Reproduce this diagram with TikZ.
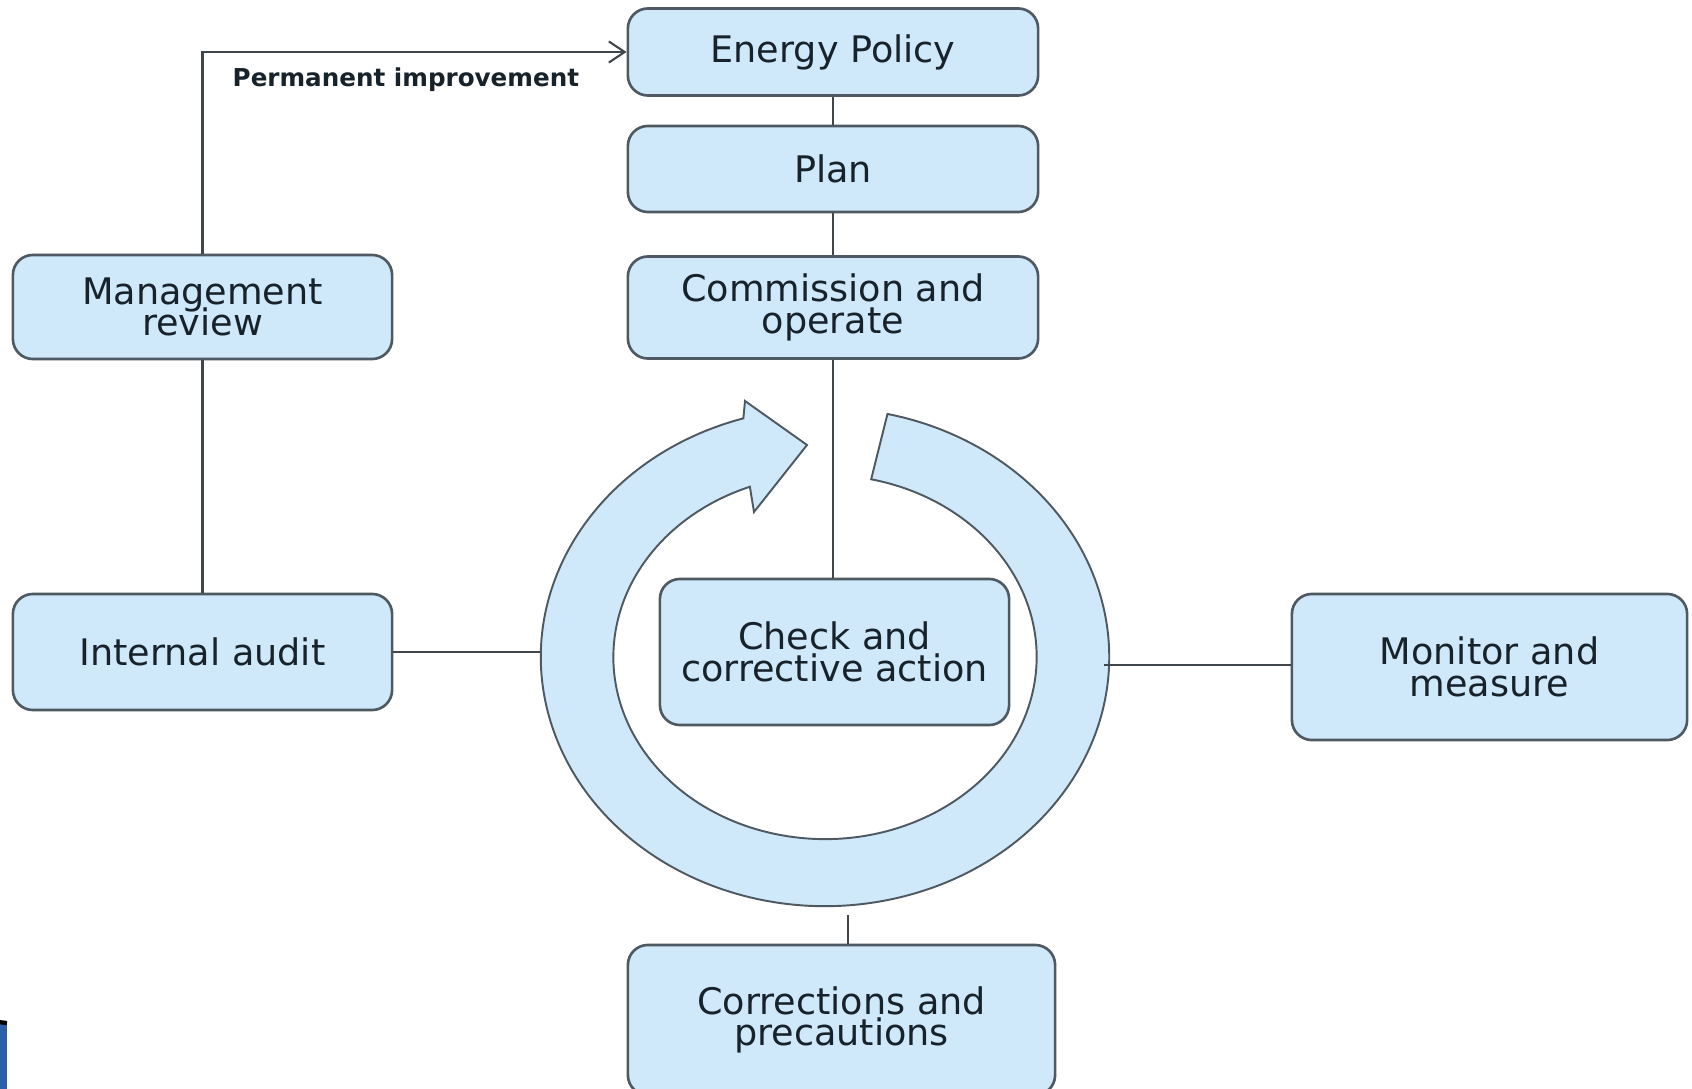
\documentclass[tikz,border=0pt]{standalone}
\usepackage{fontspec}
\setmainfont{DejaVu Sans}
\usetikzlibrary{arrows.meta}

\definecolor{boxfill}{HTML}{CFE9FB}
\definecolor{boxline}{HTML}{4E5961}
\definecolor{ink}{HTML}{18222B}
\definecolor{wirecol}{HTML}{3F474D}
\definecolor{tabblue}{HTML}{2B5FA8}

% keep two-line labels at a fixed, tight line pitch
\newcommand\tightlabel{\fontsize{10.4}{9}\selectfont\lineskiplimit=-20pt\relax\lineskip=0pt\relax}

\begin{document}
\begin{tikzpicture}[x=0.01cm,y=0.01cm,
  stage/.style={draw=boxline, line width=0.75pt, fill=boxfill,
    rounded corners=0.2cm, text=ink, align=center, inner sep=0pt,
    font=\tightlabel},
  wire/.style={draw=wirecol, line width=0.6pt},
  ringstyle/.style={draw=boxline, line width=0.55pt, fill=boxfill},
]
\useasboundingbox (0,0) rectangle (1692,-1089);
\clip (0,0) rectangle (1692,-1089);
\fill[white] (0,0) rectangle (1692,-1089);

% circular improvement arrow
\coordinate (rc) at (825,-657);
\path[ringstyle]
  (rc) ++(106.7:2.84cm and 2.49cm)
  arc[start angle=106.7, end angle=437.3, x radius=2.84cm, y radius=2.49cm]
  -- ([shift={(77.4:2.115cm and 1.82cm)}]rc)
  arc[start angle=77.4, end angle=-249.2, x radius=2.115cm, y radius=1.82cm]
  -- (754,-512) -- (807,-445) -- (745,-401) -- cycle;

% process stages
\node[stage, minimum width=4.10cm, minimum height=0.87cm] (policy) at (833,-52) {Energy Policy};
\node[stage, minimum width=4.10cm, minimum height=0.86cm] (plan) at (833,-169) {Plan};
\node[stage, minimum width=4.10cm, minimum height=1.02cm] (operate) at (833,-307.5) {Commission and\\operate};
\node[stage, minimum width=3.79cm, minimum height=1.04cm] (review) at (202.5,-307) {Management\\review};
\node[stage, minimum width=3.79cm, minimum height=1.16cm] (audit) at (202.5,-652) {Internal audit};
\node[stage, minimum width=3.95cm, minimum height=1.46cm] (monitor) at (1489.5,-667) {Monitor and\\measure};
\node[stage, minimum width=4.27cm, minimum height=1.50cm] (correct) at (841.5,-1020) {Corrections and\\precautions};
\node[stage, minimum width=3.49cm, minimum height=1.46cm] (check) at (834.5,-652) {Check and\\corrective action};

% connectors
\draw[wire] (policy) -- (plan);
\draw[wire] (plan) -- (operate);
\draw[wire] (operate.south) -- (operate.south |- check.north);
\draw[wire] (review) -- (audit);
\draw[wire, -{Straight Barb[length=4.5pt, width=6pt]}] (review.north) |- (policy.west);
\node[font=\bfseries\fontsize{7}{8}\selectfont, text=ink, anchor=west, inner sep=0pt] (pilabel) at (232,-80) {Permanent improvement};

\coordinate (ringW) at (540,-652);
\draw[wire] (audit.east) -- (ringW);
\coordinate (ringE) at (1104,-665);
\draw[wire] (ringE -| monitor.west) -- (ringE);
\coordinate (ringS) at (848,-915);
\draw[wire] (ringS) -- (ringS |- correct.north);

% corner tab
\fill[tabblue] (-20,-1100) rectangle (7,-1022);
\draw[black, line width=1.2pt] (-20,-1020) -- (7,-1023);
\end{tikzpicture}
\end{document}
